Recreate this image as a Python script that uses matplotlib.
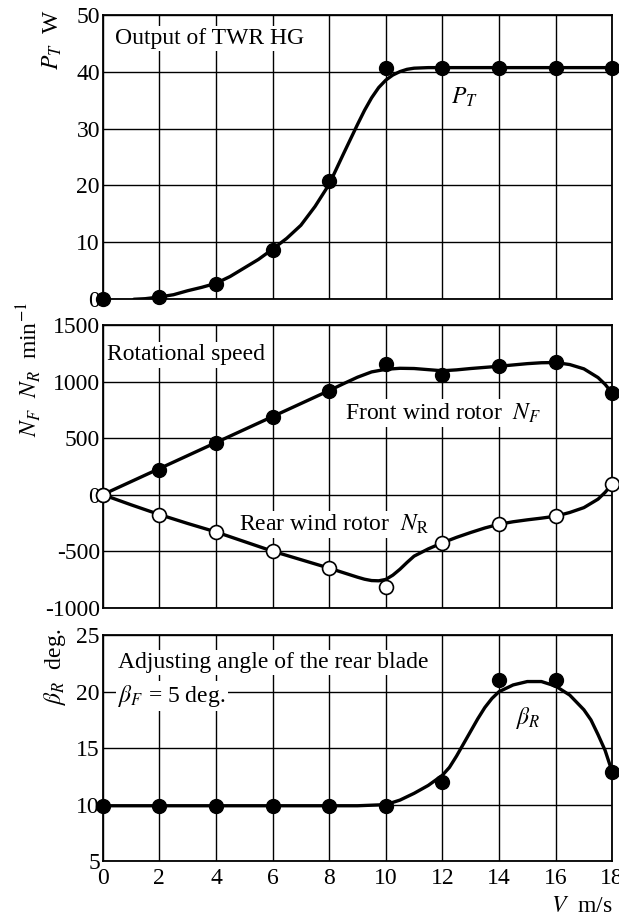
import matplotlib
matplotlib.use("Agg")
import matplotlib.pyplot as plt

plt.rcParams['font.family'] = ['Liberation Serif', 'DejaVu Serif']
plt.rcParams['mathtext.fontset'] = 'stix'
plt.rcParams['font.size'] = 17
plt.rcParams['axes.unicode_minus'] = False

# wind speed of the measured points
V = [0, 2, 4, 6, 8, 10, 12, 14, 16, 18]

# output of TWR HG
P_T = [0, 0.4, 2.6, 8.7, 20.8, 40.6, 40.7, 40.7, 40.7, 40.7]
pt_curve_v = [1.1, 1.5, 2, 2.5, 3, 3.5, 4, 4.5, 5, 5.5, 6, 6.5, 7, 7.5, 8, 8.5, 9, 9.25, 9.5,
              9.75, 10, 10.25, 10.5, 10.75, 11, 11.5, 12, 18]
pt_curve = [0, 0.1, 0.4, 0.8, 1.5, 2.1, 2.8, 4.0, 5.5, 7.0, 8.8, 10.7, 13.0, 16.3, 20.2, 25.5,
            30.7, 33.2, 35.4, 37.2, 38.5, 39.4, 40.0, 40.4, 40.6, 40.7, 40.7, 40.7]

# rotational speed
N_F = [0, 220, 456, 685, 920, 1153, 1059, 1138, 1170, 897]
N_R = [0, -176, -330, -500, -650, -815, -426, -259, -191, 94]
nf_curve_v = [0, 2, 4, 6, 8, 8.5, 9, 9.5, 10, 10.5, 11, 11.5, 12, 12.5, 13, 14, 15, 15.5, 16,
              16.5, 17, 17.5, 17.75, 18]
nf_curve = [0, 230, 460, 690, 920, 980, 1038, 1085, 1108, 1117, 1115, 1105, 1095, 1103, 1115,
            1135, 1158, 1166, 1168, 1150, 1112, 1035, 975, 897]
nr_curve_v = [0, 1, 2, 3, 4, 5, 6, 7, 8, 8.5, 9, 9.25, 9.5, 9.75, 10, 10.25, 10.5, 10.75, 11,
              11.5, 12, 12.5, 13, 13.5, 14, 14.5, 15, 15.5, 16, 16.5, 17, 17.5, 17.75, 18]
nr_curve = [0, -90, -176, -255, -330, -415, -500, -575, -650, -690, -730, -748, -760, -762, -750,
            -712, -660, -600, -544, -480, -426, -378, -335, -295, -262, -240, -223, -208, -191,
            -158, -115, -40, 20, 94]

# adjusting angle of the rear blade
beta_R = [9.9, 9.9, 9.9, 9.9, 9.9, 9.9, 12.0, 21.0, 21.0, 12.9]
br_curve_v = [0, 9, 9.5, 10, 10.5, 11, 11.5, 12, 12.25, 12.5, 12.75, 13, 13.25, 13.5, 13.75, 14,
              14.5, 15, 15.5, 16, 16.5, 17, 17.25, 17.5, 17.75, 18]
br_curve = [9.9, 9.9, 9.95, 10.0, 10.4, 11.0, 11.7, 12.6, 13.3, 14.3, 15.4, 16.5, 17.6, 18.6,
            19.4, 20.0, 20.6, 20.9, 20.9, 20.5, 19.7, 18.4, 17.5, 16.2, 14.8, 12.9]

fig = plt.figure(figsize=(6.19, 9.18), dpi=100)
left, width = 0.166, 0.823
ax1 = fig.add_axes([left, 0.674, width, 0.310])
ax2 = fig.add_axes([left, 0.338, width, 0.308])
ax3 = fig.add_axes([left, 0.062, width, 0.246])

box = dict(facecolor='white', edgecolor='none', pad=1.5)
line_kw = dict(color='black', lw=2.4, zorder=3, solid_joinstyle='round', solid_capstyle='round')


def style(ax, ylo, yhi, ystep):
    ax.set_xlim(0, 18)
    ax.set_ylim(ylo, yhi)
    ax.set_xticks(range(0, 19, 2))
    ax.set_yticks(range(ylo, yhi + 1, ystep))
    ax.grid(True, color='black', linewidth=1.0, zorder=0)
    ax.set_axisbelow(True)
    ax.tick_params(length=0, pad=2)
    for s in ax.spines.values():
        s.set_linewidth(1.3)


# panel 1
style(ax1, 0, 50, 10)
ax1.plot(pt_curve_v, pt_curve, **line_kw)
ax1.plot(V, P_T, 'o', color='black', ms=10, zorder=4, clip_on=False)
ax1.set_xticklabels([])
ax1.text(0.42, 45.8, 'Output of TWR HG', va='center', ha='left', bbox=box, zorder=2)
ax1.text(12.3, 35.5, r'$P_T$', va='center', ha='left')
ax1.text(-0.098, 1.02, r'$P_T$  W', rotation=90, transform=ax1.transAxes, ha='center', va='top')

# panel 2
style(ax2, -1000, 1500, 500)
ax2.plot(nf_curve_v, nf_curve, **line_kw)
ax2.plot(nr_curve_v, nr_curve, **line_kw)
ax2.plot(V, N_F, 'o', color='black', ms=10, zorder=4, clip_on=False)
ax2.plot(V, N_R, 'o', mfc='white', mec='black', mew=1.2, ms=10, zorder=4, clip_on=False)
ax2.set_xticklabels([])
ax2.text(0.15, 1235, 'Rotational speed', va='center', ha='left', bbox=box, zorder=2)
ax2.text(8.55, 720, r'Front wind rotor  $N_F$', va='center', ha='left', bbox=box, zorder=2)
ax2.text(4.8, -265, r'Rear wind rotor  $N_{\rm R}$', va='center', ha='left', bbox=box, zorder=2)
ax2.text(-0.145, 1.08, r'$N_F$  $N_R$  min$^{-1}$', rotation=90, transform=ax2.transAxes,
         ha='center', va='top')

# panel 3
style(ax3, 5, 25, 5)
ax3.plot(br_curve_v, br_curve, **line_kw)
ax3.plot(V, beta_R, 'o', color='black', ms=10, zorder=4, clip_on=False)
ax3.text(0.55, 22.6, 'Adjusting angle of the rear blade', va='center', ha='left', bbox=box, zorder=2)
ax3.text(0.55, 19.6, r'$\beta_F$ = 5 deg.', va='center', ha='left', bbox=box, zorder=2)
ax3.text(14.6, 17.7, r'$\beta_R$', va='center', ha='left')
ax3.text(-0.094, 1.03, r'$\beta_R$  deg.', rotation=90, transform=ax3.transAxes, ha='center', va='top')
ax3.tick_params(axis='x', pad=5)
ax3.text(1.0, -0.2, r'$V$  m/s', transform=ax3.transAxes, ha='right', va='center')

fig.savefig('out.png', dpi=100)
